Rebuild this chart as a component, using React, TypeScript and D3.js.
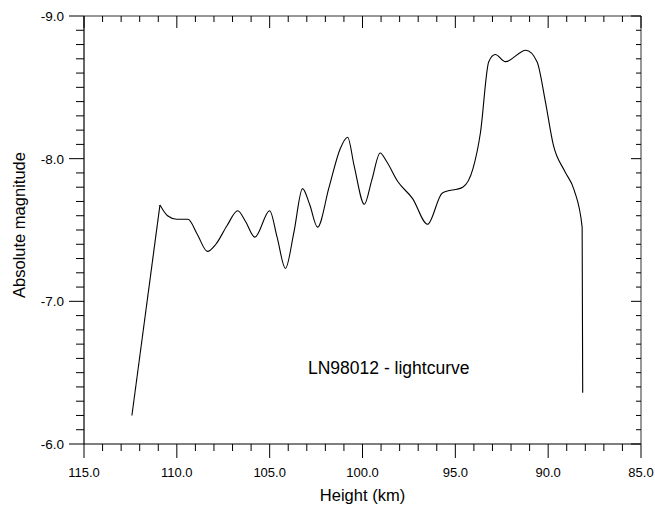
import React from "react";
import * as d3 from "d3";

const heights = [
  112.42, 110.91, 110.5, 110.0, 109.4, 108.9, 108.35, 107.9, 107.3, 106.72,
  106.3, 105.8, 105.0, 104.6, 104.15, 103.7, 103.23, 102.85, 102.42, 101.8,
  101.2, 100.8, 100.45, 99.9, 99.5, 99.05, 98.7, 98.1, 97.3, 96.5,
  95.7, 94.6, 94.05, 93.65, 93.2, 92.85, 92.3, 91.2, 90.6, 90.15,
  89.73, 89.1, 88.6, 88.17, 88.14,
];
const magnitudes = [
  -6.2, -7.675, -7.6, -7.575, -7.575, -7.47, -7.35, -7.4, -7.53, -7.635,
  -7.56, -7.45, -7.635, -7.45, -7.23, -7.48, -7.79, -7.68, -7.52, -7.8,
  -8.07, -8.15, -7.95, -7.68, -7.85, -8.04, -7.98, -7.84, -7.72, -7.54,
  -7.76, -7.8, -7.93, -8.18, -8.68, -8.73, -8.68, -8.76, -8.68, -8.4,
  -8.1, -7.91, -7.78, -7.52, -6.36,
];
const xTickLabels = ["115.0", "110.0", "105.0", "100.0", "95.0", "90.0", "85.0"];
const yTickLabels = ["-9.0", "-8.0", "-7.0", "-6.0"];

const L = 84, R = 641, T = 16, B = 444;
const font = "'Liberation Sans', Arial, sans-serif";

export default function App() {
  const x = d3.scaleLinear().domain([115, 85]).range([L, R]);
  const y = d3.scaleLinear().domain([-9, -6]).range([T, B]);
  const data = heights.map((h, i) => [h, magnitudes[i]] as [number, number]);
  const smooth = d3
    .line<[number, number]>()
    .x((d) => x(d[0]))
    .y((d) => y(d[1]))
    .curve(d3.curveMonotoneX);
  const straight = d3
    .line<[number, number]>()
    .x((d) => x(d[0]))
    .y((d) => y(d[1]));

  const xMinor = d3.range(115, 84.5, -1);
  const yMinor = d3.range(0, 31).map((i) => -9 + i * 0.1);

  return (
    <svg
      width={655}
      height={506}
      style={{ position: "absolute", left: 0, top: 0, background: "#fff" }}
      fontFamily={font}
    >
      <rect x={0} y={0} width={655} height={506} fill="#fff" />
      <line x1={L} x2={R} y1={B} y2={B} stroke="#000" strokeWidth={1.2} />
      <line x1={L} x2={L} y1={T} y2={B} stroke="#000" strokeWidth={1.2} />
      <line x1={L} x2={R} y1={T} y2={T} stroke="#333" strokeWidth={1} />
      <line x1={R} x2={R} y1={T} y2={B} stroke="#333" strokeWidth={1} />
      {xMinor.map((v, i) => {
        const major = Math.abs(v % 5) < 1e-6;
        const px = x(v);
        return (
          <g key={"xt" + i}>
            <line x1={px} x2={px} y1={B} y2={B + (major ? 14 : 7)} stroke="#000" />
            <line x1={px} x2={px} y1={T} y2={T + (major ? 12 : 6)} stroke="#000" />
          </g>
        );
      })}
      {yMinor.map((v, i) => {
        const major = i % 10 === 0;
        const py = y(v);
        return (
          <g key={"yt" + i}>
            <line x1={L - (major ? 15 : 8)} x2={L} y1={py} y2={py} stroke="#000" />
            <line x1={R - (major ? 10 : 5)} x2={R} y1={py} y2={py} stroke="#000" />
          </g>
        );
      })}
      {xTickLabels.map((t) => (
        <text key={t} x={x(+t)} y={477} textAnchor="middle" fontSize={13}>
          {t}
        </text>
      ))}
      {yTickLabels.map((t) => (
        <text key={t} x={64} y={y(+t) + 5} textAnchor="end" fontSize={13.5}>
          {t}
        </text>
      ))}
      <text x={(L + R) / 2} y={501} textAnchor="middle" fontSize={16.5}>
        Height (km)
      </text>
      <text
        transform={`translate(25, ${(T + B) / 2 - 5}) rotate(-90)`}
        textAnchor="middle"
        fontSize={16.5}
      >
        Absolute magnitude
      </text>
      <text x={308} y={374} fontSize={17.5}>
        LN98012 - lightcurve
      </text>
      <path d={straight(data.slice(0, 2)) || ""} fill="none" stroke="#000" strokeWidth={1.1} />
      <path d={smooth(data.slice(1)) || ""} fill="none" stroke="#000" strokeWidth={1.1} />
    </svg>
  );
}
